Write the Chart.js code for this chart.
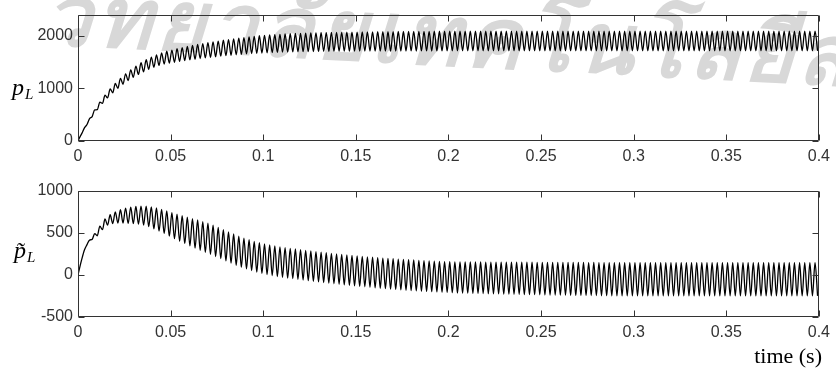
<!DOCTYPE html>
<html>
<head>
<meta charset="utf-8">
<script src="https://cdn.jsdelivr.net/npm/chart.js@4.4.1/dist/chart.umd.min.js"></script>
<style>
  html, body { margin:0; padding:0; background:#fff; }
  #wrap { position:relative; width:836px; height:370px; overflow:hidden; background:#fff; }
  canvas { position:absolute; left:0; z-index:1; }
  #c1 { top:0; }
  #c2 { top:175px; }
  .ylab { position:absolute; z-index:2; font-family:"Liberation Serif","Times New Roman",serif; font-style:italic; font-size:24px; line-height:24px; color:#000; white-space:nowrap; }
  .ylab sub { font-size:15px; line-height:0; vertical-align:-4px; font-style:italic; margin-left:1px; }
  #xlab { position:absolute; z-index:2; right:14px; top:345px; font-family:"Liberation Serif","Times New Roman",serif; font-size:22px; line-height:22px; color:#000; white-space:nowrap; }
  #wm { position:absolute; z-index:0; left:72px; top:-52px; font-family:"Noto Sans","DejaVu Sans",sans-serif; font-weight:600; font-size:84px; letter-spacing:5px; color:#d8d8d8; white-space:nowrap; transform:rotate(3deg) skewX(-14deg); transform-origin:left top; }
</style>
</head>
<body>
<div id="wrap">
  <div id="wm">วิทยาลัยเทคโนโลยีส</div>
  <canvas id="c1" width="836" height="175"></canvas>
  <canvas id="c2" width="836" height="195"></canvas>
  <div class="ylab" style="left:12px; top:75px;">p<sub>L</sub></div>
  <div class="ylab" style="left:14px; top:238px;">p&#x0303;<sub>L</sub></div>
  <div id="xlab">time (s)</div>
</div>
<script>
// ---- data (one value per 1/360 s ripple cycle) ----
const PERIOD = 1 / 360;              // ripple period (s)
const xTicks = [0, 0.05, 0.1, 0.15, 0.2, 0.25, 0.3, 0.35, 0.4];
const xTickLabels = ["0", "0.05", "0.1", "0.15", "0.2", "0.25", "0.3", "0.35", "0.4"];
const topYTicks = [0, 1000, 2000];
const topYTickLabels = ["0", "1000", "2000"];
const botYTicks = [-500, 0, 500, 1000];
const botYTickLabels = ["-500", "0", "500", "1000"];

// p_L : value at the crest-phase and trough-phase sample of each cycle
const pLUpper = [
  54, 248, 426, 590, 739, 870, 989, 1094, 1190, 1276,
  1352, 1422, 1486, 1543, 1594, 1636, 1674, 1704, 1727, 1752,
  1773, 1795, 1814, 1832, 1850, 1867, 1882, 1898, 1913, 1926,
  1940, 1952, 1964, 1976, 1986, 1998, 2007, 2013, 2019, 2026,
  2032, 2036, 2041, 2044, 2047, 2051, 2054, 2056, 2059, 2061,
  2063, 2064, 2066, 2067, 2069, 2070, 2072, 2072, 2074, 2075,
  2076, 2077, 2079, 2079, 2080, 2081, 2082, 2082, 2083, 2084,
  2084, 2084, 2085, 2085, 2085, 2085, 2086, 2086, 2086, 2086,
  2086, 2086, 2086, 2087, 2087, 2087, 2087, 2087, 2087, 2087,
  2087, 2087, 2087, 2087, 2087, 2087, 2087, 2087, 2087, 2087,
  2087, 2087, 2087, 2087, 2087, 2087, 2087, 2087, 2087, 2087,
  2087, 2087, 2087, 2087, 2087, 2087, 2087, 2087, 2087, 2087,
  2087, 2087, 2087, 2087, 2087, 2087, 2087, 2087, 2087, 2087,
  2087, 2087, 2087, 2087, 2087, 2087, 2087, 2087, 2087, 2087,
  2087, 2087, 2087, 2087
];
const pLLower = [
  144, 314, 464, 596, 713, 818, 915, 1000, 1078, 1148,
  1210, 1264, 1314, 1359, 1400, 1435, 1462, 1480, 1495, 1512,
  1527, 1541, 1554, 1566, 1578, 1589, 1600, 1612, 1621, 1628,
  1638, 1646, 1654, 1660, 1666, 1670, 1675, 1679, 1683, 1688,
  1690, 1692, 1695, 1696, 1697, 1699, 1700, 1702, 1703, 1705,
  1705, 1706, 1706, 1707, 1707, 1708, 1708, 1708, 1708, 1709,
  1708, 1709, 1709, 1709, 1710, 1709, 1710, 1710, 1709, 1710,
  1710, 1710, 1710, 1710, 1710, 1710, 1710, 1710, 1710, 1710,
  1710, 1710, 1710, 1710, 1710, 1710, 1710, 1710, 1710, 1710,
  1710, 1710, 1710, 1710, 1710, 1710, 1710, 1710, 1710, 1710,
  1710, 1710, 1710, 1710, 1710, 1710, 1710, 1710, 1710, 1710,
  1710, 1710, 1710, 1710, 1710, 1710, 1710, 1710, 1710, 1710,
  1710, 1710, 1710, 1710, 1710, 1710, 1710, 1710, 1710, 1710,
  1710, 1710, 1710, 1710, 1710, 1710, 1710, 1710, 1710, 1710,
  1710, 1710, 1710, 1710
];

// p~_L
const pTUpper = [
  68, 298, 416, 493, 581, 667, 718, 751, 777, 796,
  809, 817, 821, 819, 811, 798, 782, 762, 742, 724,
  706, 688, 671, 655, 636, 618, 592, 566, 540, 514,
  488, 463, 440, 420, 401, 385, 371, 357, 346, 336,
  327, 318, 310, 302, 294, 286, 279, 272, 265, 258,
  252, 245, 239, 233, 227, 222, 216, 212, 207, 202,
  198, 194, 189, 186, 182, 179, 175, 172, 169, 166,
  163, 160, 159, 157, 157, 156, 156, 155, 155, 154,
  154, 153, 153, 152, 153, 152, 152, 152, 152, 151,
  151, 150, 150, 150, 150, 149, 150, 149, 149, 148,
  149, 148, 148, 147, 148, 148, 147, 147, 147, 147,
  147, 147, 147, 147, 147, 147, 147, 147, 147, 147,
  147, 147, 147, 147, 147, 147, 147, 147, 147, 147,
  147, 147, 147, 147, 147, 147, 147, 147, 147, 147,
  147, 147, 147, 147
];
const pTLower = [
  192, 362, 424, 467, 539, 593, 612, 619, 619, 614,
  611, 605, 595, 577, 549, 522, 494, 462, 432, 402,
  374, 346, 319, 293, 270, 246, 220, 194, 168, 142,
  116, 93, 72, 52, 35, 19, 5, -7, -18, -28,
  -37, -44, -52, -60, -68, -76, -83, -90, -97, -104,
  -110, -117, -123, -129, -135, -140, -146, -152, -157, -162,
  -168, -172, -177, -182, -186, -189, -193, -196, -199, -202,
  -205, -208, -211, -213, -215, -216, -218, -219, -221, -222,
  -224, -225, -227, -228, -229, -230, -232, -232, -234, -235,
  -237, -238, -238, -240, -240, -241, -242, -243, -243, -244,
  -245, -246, -246, -247, -248, -248, -249, -249, -249, -249,
  -249, -249, -249, -249, -249, -249, -249, -249, -249, -249,
  -249, -249, -249, -249, -249, -249, -249, -249, -249, -249,
  -249, -249, -249, -249, -249, -249, -249, -249, -249, -249,
  -249, -249, -249, -249
];

// ---- build point lists (crest sample at 1/4 cycle, trough sample at 3/4 cycle) ----
function buildPoints(upper, lower) {
  const pts = [{ x: 0, y: 0 }];
  for (let k = 0; k < upper.length; k++) {
    pts.push({ x: (k + 0.25) * PERIOD, y: upper[k] });
    pts.push({ x: (k + 0.75) * PERIOD, y: lower[k] });
  }
  return pts;
}

Chart.defaults.font.family = '"Liberation Sans", Arial, Helvetica, sans-serif';
Chart.defaults.font.size = 16;
Chart.defaults.color = '#333';

const framePlugin = {
  id: 'frame',
  afterDatasetsDraw(chart) {
    const { ctx, chartArea: a, scales } = chart;
    const L = Math.round(a.left) + 0.5, R = Math.round(a.right) - 0.5;
    const T = Math.round(a.top) + 0.5, B = Math.round(a.bottom) - 0.5;
    const tl = 6;
    ctx.save();
    ctx.strokeStyle = '#333';
    ctx.lineWidth = 1;
    ctx.beginPath();
    ctx.rect(L, T, R - L, B - T);
    scales.x.ticks.forEach(t => {
      const px = Math.round(scales.x.getPixelForValue(t.value)) + 0.5;
      ctx.moveTo(px, B); ctx.lineTo(px, B - tl);
      ctx.moveTo(px, T); ctx.lineTo(px, T + tl);
    });
    scales.y.ticks.forEach(t => {
      const py = Math.round(scales.y.getPixelForValue(t.value)) + 0.5;
      ctx.moveTo(L, py); ctx.lineTo(L + tl, py);
      ctx.moveTo(R, py); ctx.lineTo(R - tl, py);
    });
    ctx.stroke();
    ctx.restore();
  }
};

function makeChart(id, points, yMin, yMax, yTicks, yLabels, pad, xAxisH) {
  return new Chart(document.getElementById(id), {
    type: 'line',
    data: {
      datasets: [{
        data: points,
        borderColor: '#000',
        borderWidth: 1.3,
        pointRadius: 0,
        fill: false,
        cubicInterpolationMode: 'monotone'
      }]
    },
    options: {
      responsive: false,
      maintainAspectRatio: false,
      devicePixelRatio: 1,
      animation: false,
      events: [],
      layout: { padding: pad },
      plugins: { legend: { display: false }, tooltip: { enabled: false } },
      scales: {
        x: {
          type: 'linear',
          min: 0, max: 0.4,
          afterBuildTicks: s => { s.ticks = xTicks.map(v => ({ value: v })); },
          afterFit: s => { s.height = xAxisH; },
          grid: { display: false, drawTicks: false },
          border: { display: false },
          ticks: {
            autoSkip: false, maxRotation: 0, padding: 6,
            callback: (v, i) => xTickLabels[i]
          }
        },
        y: {
          type: 'linear',
          min: yMin, max: yMax,
          afterBuildTicks: s => { s.ticks = yTicks.map(v => ({ value: v })); },
          afterFit: s => { s.width = 78; },
          grid: { display: false, drawTicks: false },
          border: { display: false },
          ticks: {
            autoSkip: false, padding: 5,
            callback: (v, i) => yLabels[i]
          }
        }
      }
    },
    plugins: [framePlugin]
  });
}

makeChart('c1', buildPoints(pLUpper, pLLower), 0, 2400, topYTicks, topYTickLabels,
  { left: 0, right: 11, top: 14, bottom: 0 }, 34);
makeChart('c2', buildPoints(pTUpper, pTLower), -500, 1000, botYTicks, botYTickLabels,
  { left: 0, right: 11, top: 16, bottom: 0 }, 53);
</script>
</body>
</html>
